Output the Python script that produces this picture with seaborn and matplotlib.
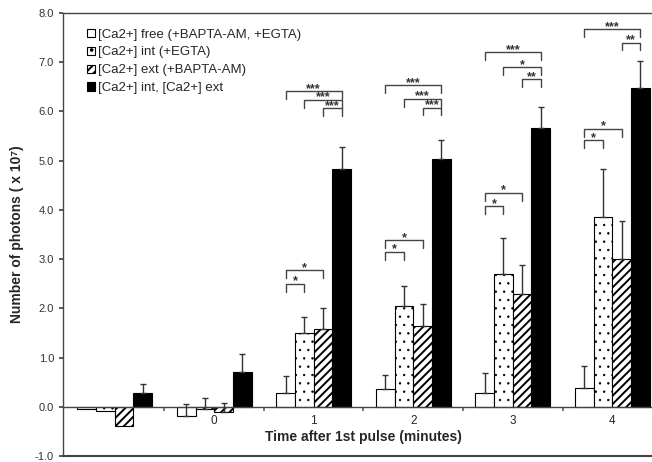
import numpy as np
import pandas as pd
import matplotlib
matplotlib.use("Agg")
import matplotlib.pyplot as plt
import seaborn as sns
from matplotlib.patches import Patch

# values (x 10^7 photons)
groups = ["pre", "0", "1", "2", "3", "4"]
tick_labels = ["", "0", "1", "2", "3", "4"]
series = ["[Ca2+] free (+BAPTA-AM, +EGTA)", "[Ca2+] int (+EGTA)",
          "[Ca2+] ext (+BAPTA-AM)", "[Ca2+] int, [Ca2+] ext"]

free_vals = [-0.05, -0.18, 0.28, 0.37, 0.28, 0.39]
free_err = [0.0, 0.24, 0.35, 0.28, 0.41, 0.44]
int_vals = [-0.09, -0.04, 1.50, 2.05, 2.70, 3.86]
int_err = [0.0, 0.22, 0.33, 0.41, 0.73, 0.98]
ext_vals = [-0.40, -0.10, 1.57, 1.65, 2.30, 3.00]
ext_err = [0.0, 0.18, 0.43, 0.44, 0.58, 0.78]
both_vals = [0.27, 0.71, 4.84, 5.04, 5.67, 6.48]
both_err = [0.20, 0.36, 0.44, 0.37, 0.43, 0.54]

# significance brackets: (group, bar a, bar b, height, label)
sig_brackets = [
    (2, 0, 3, 6.42, "***"), (2, 1, 3, 6.24, "***"), (2, 2, 3, 6.06, "***"),
    (2, 0, 1, 2.50, "*"), (2, 0, 2, 2.77, "*"),
    (3, 0, 3, 6.54, "***"), (3, 1, 3, 6.26, "***"), (3, 2, 3, 6.08, "***"),
    (3, 0, 1, 3.15, "*"), (3, 0, 2, 3.39, "*"),
    (4, 0, 3, 7.20, "***"), (4, 1, 3, 6.90, "*"), (4, 2, 3, 6.65, "**"),
    (4, 0, 1, 4.07, "*"), (4, 0, 2, 4.35, "*"),
    (5, 0, 3, 7.68, "***"), (5, 2, 3, 7.40, "**"),
    (5, 0, 1, 5.41, "*"), (5, 0, 2, 5.65, "*"),
]

all_vals = [free_vals, int_vals, ext_vals, both_vals]
all_errs = [free_err, int_err, ext_err, both_err]

df = pd.DataFrame({
    "time": groups * 4,
    "series": np.repeat(series, len(groups)),
    "value": np.concatenate(all_vals),
})

sns.set_theme(style="ticks")
plt.rcParams["font.family"] = ["Liberation Sans", "DejaVu Sans"]
plt.rcParams["hatch.linewidth"] = 1.4

fig = plt.figure(figsize=(6.52, 4.62), dpi=100)
ax = fig.add_axes([63 / 652, 6 / 462, 601 / 652, 443 / 462])

sns.barplot(data=df, x="time", y="value", hue="series", order=groups,
            hue_order=series, width=0.75, errorbar=None, legend=False, ax=ax)

# facecolor, hatch, hatch line width
styles = [("white", "", 1.4), ("white", "..", 0.5), ("white", "////", 1.4), ("black", "", 1.4)]
centers = []
for cont, (fc, hatch, hlw), vals, errs in zip(ax.containers, styles, all_vals, all_errs):
    xs = []
    for p in cont.patches:
        p.set_facecolor(fc)
        p.set_edgecolor("black")
        p.set_hatch(hatch)
        if hasattr(p, "set_hatch_linewidth"):
            p.set_hatch_linewidth(hlw)
        p.set_linewidth(0.8)
        xs.append(p.get_x() + p.get_width() / 2)
    centers.append(xs)
    xs = np.array(xs)
    vals = np.array(vals)
    errs = np.array(errs)
    m = errs > 0
    ax.errorbar(xs[m], vals[m], yerr=[np.zeros(m.sum()), errs[m]], fmt="none",
                ecolor="#333333", elinewidth=1, capsize=2.5, capthick=1, zorder=3)

# brackets
tick_h = 0.16
for g, a, b, h, lab in sig_brackets:
    x1, x2 = centers[a][g], centers[b][g]
    ax.plot([x1, x1, x2, x2], [h - tick_h, h, h, h - tick_h],
            color="#444444", lw=1, zorder=4)
    ax.text((x1 + x2) / 2, h - 0.08, lab, ha="center", va="bottom",
            fontsize=9, fontweight="bold", color="#333333")

ax.set_xlim(-0.52, 5.52)
ax.set_ylim(-1.0, 8.0)
ax.set_yticks(np.arange(-1, 8.1, 1))
ax.set_yticklabels([f"{v:.1f}" for v in np.arange(-1, 8.1, 1)], fontsize=8)

ax.spines["bottom"].set_position(("data", 0))
ax.spines["right"].set_visible(False)
for s in ["left", "bottom", "top"]:
    ax.spines[s].set_color("#444444")
    ax.spines[s].set_linewidth(1)
ax.axhline(-1.0, color="#444444", lw=1.5, clip_on=False)

ax.set_xticks(np.arange(0.5, 5, 1))
ax.set_xticklabels([])
ax.set_xticks(range(len(groups)), minor=True)
ax.set_xticklabels(tick_labels, minor=True, fontsize=8.5)
ax.tick_params(axis="x", which="major", length=3, direction="out", color="#666666")
ax.tick_params(axis="x", which="minor", length=0, pad=6)
ax.tick_params(axis="y", length=3, color="#444444", labelcolor="#333333")

ax.set_xlabel("Time after 1st pulse (minutes)", fontsize=10, fontweight="bold", labelpad=2)
ax.set_ylabel("Number of photons ( x 10\u2077)", fontsize=10, fontweight="bold", labelpad=8)

handles = []
for fc, h, hlw in styles:
    hp = Patch(facecolor=fc, edgecolor="black", hatch=h, linewidth=0.8)
    if hasattr(hp, "set_hatch_linewidth"):
        hp.set_hatch_linewidth(hlw)
    handles.append(hp)
ax.legend(handles, series, loc="upper left", bbox_to_anchor=(0.04, 0.965),
          frameon=False, fontsize=9.5, handlelength=0.6, handleheight=0.6,
          handletextpad=0.25, labelspacing=0.45, borderpad=0, borderaxespad=0)

plt.savefig("out.png", dpi=100)
